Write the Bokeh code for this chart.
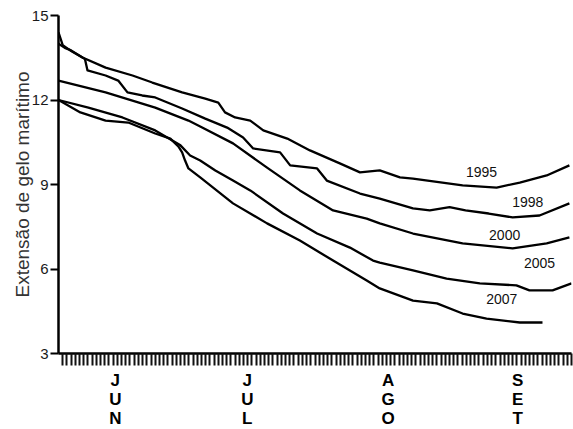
from bokeh.plotting import figure
from bokeh.models import Range1d, FixedTicker
from bokeh.core.properties import value
from bokeh.embed import file_html
from bokeh.resources import INLINE

# Day index since 1 June, sea-ice extent (million km²)
d1995 = [0, 1, 2.8, 5.7, 11.2, 17.6, 22.3, 29.4, 34.9, 38.0, 39.6, 42.0, 45.6, 48.7, 54.4, 59.8,
         66.9, 71.7, 76.4, 81.2, 84.3, 96.1, 104.2, 109.7, 116.1, 121.5]
v1995 = [14.4, 13.95, 13.76, 13.51, 13.15, 12.87, 12.62, 12.27, 12.05, 11.91, 11.56, 11.38, 11.27,
         10.92, 10.63, 10.21, 9.75, 9.43, 9.50, 9.25, 9.21, 8.97, 8.89, 9.07, 9.32, 9.68]

d1998 = [0, 1.5, 3.0, 5.7, 6.3, 6.9, 11.2, 14.2, 16.4, 19.9, 23.0, 29.4, 34.9, 40.1, 43.9, 46.3,
         52.7, 55.1, 61.5, 63.8, 71.7, 76.4, 84.3, 88.3, 93.0, 96.8, 102.3, 108.0, 114.4, 121.5]
v1998 = [14.0, 13.85, 13.76, 13.51, 13.45, 13.05, 12.87, 12.69, 12.27, 12.16, 12.09, 11.70, 11.34,
         11.02, 10.67, 10.28, 10.14, 9.68, 9.57, 9.14, 8.68, 8.50, 8.15, 8.08, 8.20, 8.08, 7.97,
         7.83, 7.90, 8.33]

d2000 = [0, 11.2, 23.0, 30.9, 33.7, 41.5, 49.6, 57.4, 65.3, 73.3, 76.4, 84.3, 96.1, 108.0, 116.1, 121.5]
v2000 = [12.69, 12.27, 11.73, 11.27, 11.06, 10.46, 9.60, 8.79, 8.08, 7.79, 7.62, 7.26, 6.91, 6.73,
         6.91, 7.12]

d2005 = [0, 7.1, 15.2, 23.0, 29.0, 31.3, 33.7, 37.3, 41.5, 45.6, 53.4, 61.5, 69.3, 74.8, 76.4,
         84.3, 92.3, 100.2, 108.9, 112.0, 117.5, 122.0]
v2005 = [12.0, 11.73, 11.38, 10.92, 10.39, 10.03, 9.85, 9.50, 9.14, 8.79, 7.97, 7.26, 6.76, 6.30,
         6.23, 5.95, 5.66, 5.49, 5.42, 5.24, 5.24, 5.49]

d2007 = [0, 5.2, 11.2, 16.6, 23.0, 26.6, 28.5, 29.4, 30.1, 30.9, 33.7, 41.5, 49.6, 57.4, 65.3,
         73.3, 76.4, 84.3, 90.0, 96.1, 101.8, 109.7, 115.1]
v2007 = [12.0, 11.56, 11.27, 11.20, 10.81, 10.63, 10.35, 10.14, 9.85, 9.57, 9.25, 8.33, 7.62, 7.01,
         6.30, 5.59, 5.31, 4.88, 4.78, 4.42, 4.24, 4.10, 4.10]

series_days = [d1995, d1998, d2000, d2005, d2007]
series_vals = [v1995, v1998, v2000, v2005, v2007]

year_labels = ["1995", "1998", "2000", "2005", "2007"]
year_label_x = [100.6, 111.6, 106.1, 114.4, 105.4]
year_label_y = [9.46, 8.37, 7.19, 6.23, 4.92]

month_labels = ["J\nU\nN", "J\nU\nL", "A\nG\nO", "S\nE\nT"]
month_pos = [13.5, 44.9, 78.4, 109.2]
y_ticks = [3, 6, 9, 12, 15]

p = figure(frame_width=513, frame_height=338, output_backend="svg", toolbar_location=None,
           x_range=Range1d(0, 122), y_range=Range1d(3, 15),
           min_border_left=58, min_border_right=2, min_border_top=15, min_border_bottom=60)
p.outline_line_color = None
p.xgrid.visible = False
p.ygrid.visible = False
p.background_fill_color = "white"
p.border_fill_color = "white"

for d, v in zip(series_days, series_vals):
    p.line(d, v, line_color="black", line_width=2.3, line_join="round")

p.text(x=year_label_x, y=year_label_y, text=year_labels, text_align="center",
       text_baseline="middle", text_font=value("Liberation Sans"), text_font_size="14px",
       text_color="#111111")

# y axis
ya = p.yaxis[0]
ya.ticker = FixedTicker(ticks=y_ticks, minor_ticks=[])
ya.axis_line_width = 2.5
ya.major_tick_line_width = 2
ya.major_tick_out = 8
ya.major_tick_in = 0
ya.minor_tick_out = 0
ya.minor_tick_in = 0
ya.major_label_standoff = 2
ya.major_label_text_font = "Liberation Sans"
ya.major_label_text_font_size = "15px"
ya.major_label_text_color = "#1a1a1a"
ya.axis_label = "Extensão de gelo marítimo"
ya.axis_label_text_font = "Liberation Sans"
ya.axis_label_text_font_size = "19px"
ya.axis_label_text_font_style = "normal"
ya.axis_label_text_color = "#333333"
ya.axis_label_standoff = -4

# x axis
xa = p.xaxis[0]
xa.ticker = FixedTicker(ticks=month_pos, minor_ticks=list(range(1, 123)))
xa.major_label_overrides = {m: lab for m, lab in zip(month_pos, month_labels)}
xa.axis_line_width = 2.5
xa.major_tick_line_color = None
xa.major_tick_out = 12
xa.major_tick_in = 0
xa.minor_tick_out = 12
xa.minor_tick_in = 0
xa.minor_tick_line_width = 2
xa.minor_tick_line_color = "#111111"
xa.major_label_standoff = 5
xa.major_label_text_font = "Liberation Sans"
xa.major_label_text_font_style = "bold"
xa.major_label_text_font_size = "17px"
xa.major_label_text_color = "black"
xa.major_label_text_line_height = 1.0

open("out.html", "w").write(file_html(p, INLINE))
